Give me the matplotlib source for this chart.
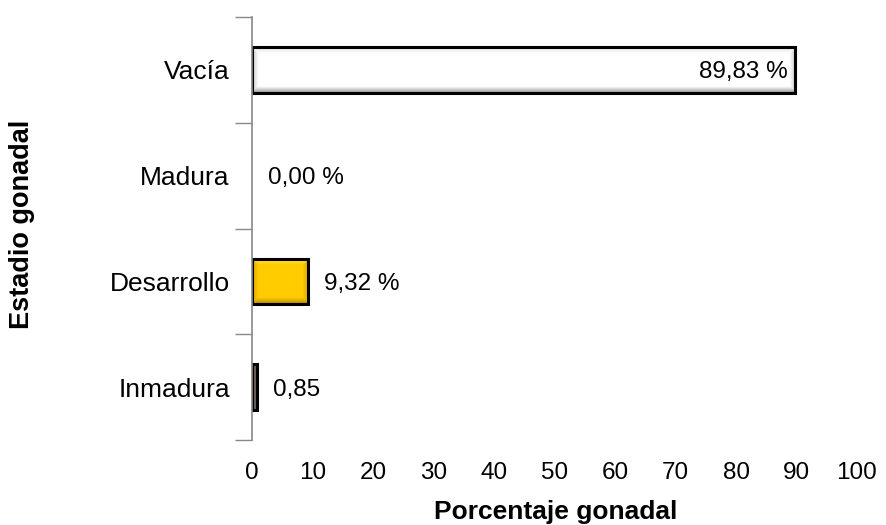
import numpy as np
import matplotlib.pyplot as plt
import matplotlib.colors as mcolors

plt.rcParams['font.family'] = ['Liberation Sans', 'DejaVu Sans']

categories = ["Inmadura", "Desarrollo", "Madura", "Vacía"]
values = [0.85, 9.32, 0.00, 89.83]
labels = ["0,85", "9,32 %", "0,00 %", "89,83 %"]
# (inner colour, top bevel, bottom bevel, side bevel)
bar_styles = [
    ("#6a605a", "#958b85", "#2e2824", "#3e3630"),
    ("#ffcc00", "#ffe45a", "#b88e00", "#d9a900"),
    ("#ffffff", "#ffffff", "#ffffff", "#ffffff"),
    ("#ffffff", "#e6e6e6", "#9a9a9a", "#c8c8c8"),
]
xticks = [0, 10, 20, 30, 40, 50, 60, 70, 80, 90, 100]

W, H, DPI = 8.86, 5.25, 100
fig = plt.figure(figsize=(W, H), dpi=DPI)
ax_rect = [252 / 886, 1 - 440 / 525, 605 / 886, 423 / 525]
ax = fig.add_axes(ax_rect)

ax.set_xlim(0, 100)
ax.set_ylim(-0.5, 3.5)

y = np.arange(len(categories))
bar_h = 0.43
px_per_x = ax_rect[2] * W * DPI / 100
px_per_y = ax_rect[3] * H * DPI / 4


def bevel_image(w_px, h_px, inner, top, bottom, side, bev=6):
    nx, ny = max(int(round(w_px)), 2), max(int(round(h_px)), 2)
    inner, top, bottom, side = [np.array(mcolors.to_rgb(c)) for c in (inner, top, bottom, side)]
    b = min(bev, nx // 3 if nx > 6 else 1, ny // 3)
    yy, xx = np.mgrid[0:ny, 0:nx]
    # distances to edges (row 0 is top)
    d = np.stack([yy, ny - 1 - yy, xx, nx - 1 - xx])
    dmin = d.min(axis=0)
    which = np.argmin(d, axis=0)
    t = np.clip(1 - dmin / max(b, 1), 0, 1)[..., None]
    edge = np.where(which[..., None] == 0, top,
                    np.where(which[..., None] == 1, bottom, side))
    return inner * (1 - t) + edge * t


for i, (v, st) in enumerate(zip(values, bar_styles)):
    if v <= 0:
        continue
    img = bevel_image(v * px_per_x, bar_h * px_per_y, *st)
    ax.imshow(img, extent=[0, v, i - bar_h / 2, i + bar_h / 2],
              aspect="auto", interpolation="bilinear", zorder=2)

vis_vals = [v if v > 0 else np.nan for v in values]
ax.barh(y, vis_vals, height=bar_h, fill=False, edgecolor="black",
        linewidth=2.2, zorder=3)

for i, (v, lab) in enumerate(zip(values, labels)):
    if v > 50:
        ax.text(v - 1.3, i, lab, ha="right", va="center_baseline",
                fontsize=17.5, zorder=4)
    else:
        ax.text(v + 2.6, i, lab, ha="left", va="center_baseline",
                fontsize=17.5, zorder=4)

ax.set_xlim(0, 100)
ax.set_ylim(-0.5, 3.5)
ax.set_xticks(xticks)
ax.set_xticklabels([str(t) for t in xticks], fontsize=17.5)
ax.set_yticks(y)
ax.set_yticklabels(categories, fontsize=19)
ax.set_yticks([-0.5, 0.5, 1.5, 2.5, 3.5], minor=True)

ax.tick_params(axis="y", which="major", length=0, pad=16)
ax.tick_params(axis="y", which="minor", length=12, color="#888888", width=1)
ax.tick_params(axis="x", length=0, pad=16)

for s in ["top", "right", "bottom"]:
    ax.spines[s].set_visible(False)
ax.spines["left"].set_color("#888888")
ax.spines["left"].set_linewidth(1.2)
ax.spines["left"].set_zorder(5)

fig.text(556 / 886, 1 - 512 / 525, "Porcentaje gonadal", fontsize=19,
         fontweight="bold", ha="center", va="center")
fig.text(22 / 886, 1 - 224 / 525, "Estadio gonadal", fontsize=19.5,
         fontweight="bold", ha="center", va="center", rotation=90)

fig.savefig("out.png", dpi=DPI)
